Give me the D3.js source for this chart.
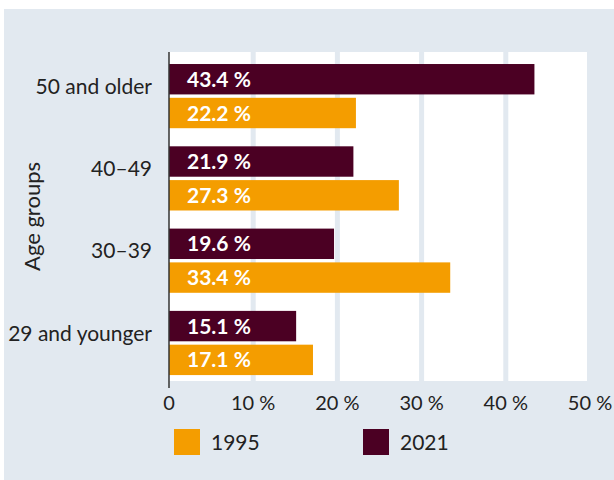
<!DOCTYPE html>
<html>
<head>
<meta charset="utf-8">
<script src="https://cdn.jsdelivr.net/npm/d3@7"></script>
<style>
  body { margin: 0; background: #fff; }
  svg { display: block; font-family: Lato, "Noto Sans", sans-serif; }
</style>
</head>
<body>
<svg id="chart"></svg>
<script>
const groups = ["50 and older", "40\u201349", "30\u201339", "29 and younger"];
const years = ["2021", "1995"];
const values2021 = [43.4, 21.9, 19.6, 15.1];
const values1995 = [22.2, 27.3, 33.4, 17.1];
const xTicks = [0, 10, 20, 30, 40, 50];
const colors = { "1995": "#f49d00", "2021": "#4b0023" };

const width = 614, height = 480;
const margin = { top: 52, right: 24, bottom: 99, left: 169 };

const svg = d3.select("#chart")
    .attr("width", width)
    .attr("height", height);

// panel
svg.append("rect")
    .attr("x", 4).attr("y", 9)
    .attr("width", width - 4).attr("height", height - 9)
    .attr("fill", "#e2e9f0");

const x = d3.scaleLinear().domain([0, 50]).range([margin.left, 590]);
const y0 = d3.scaleBand().domain(groups)
    .range([margin.top, height - margin.bottom])
    .paddingInner(0.22).paddingOuter(0.109).align(0.67);
const y1 = d3.scaleBand().domain(years)
    .range([0, y0.bandwidth()])
    .paddingInner(0.1);

const plotTop = margin.top, plotBottom = 381;

// white plot area
svg.append("rect")
    .attr("x", x(0)).attr("y", plotTop)
    .attr("width", x(50) - x(0) - 3).attr("height", plotBottom - plotTop)
    .attr("fill", "#fff");

// gridlines
svg.append("g")
    .selectAll("line")
    .data(xTicks.slice(1))
    .enter()
    .append("line")
    .attr("x1", d => x(d)).attr("x2", d => x(d))
    .attr("y1", plotTop).attr("y2", plotBottom)
    .attr("stroke", "#e2e9f0")
    .attr("stroke-width", 5);

const rows = groups.map((g, i) => ({ group: g, "2021": values2021[i], "1995": values1995[i] }));

const gGroup = svg.append("g")
    .selectAll("g")
    .data(rows)
    .enter()
    .append("g")
    .attr("transform", d => `translate(0,${y0(d.group)})`);

const bars = gGroup.selectAll("g")
    .data(d => years.map(k => ({ year: k, value: d[k] })))
    .enter()
    .append("g");

bars.append("rect")
    .attr("x", x(0))
    .attr("y", d => y1(d.year))
    .attr("width", d => x(d.value) - x(0))
    .attr("height", y1.bandwidth())
    .attr("fill", d => colors[d.year]);

bars.append("text")
    .attr("x", x(0) + 18)
    .attr("y", d => y1(d.year) + y1.bandwidth() / 2)
    .attr("dy", "0.36em")
    .attr("fill", "#fff")
    .attr("font-size", 21)
    .attr("font-weight", 700)
    .text(d => d3.format(".1f")(d.value) + " %");

// category labels
svg.append("g")
    .selectAll("text")
    .data(groups)
    .enter()
    .append("text")
    .attr("x", 152)
    .attr("y", d => y0(d) + y1("2021") + y1.bandwidth() / 2 + 7)
    .attr("dy", "0.36em")
    .attr("text-anchor", "end")
    .attr("fill", "#222")
    .attr("font-size", 21)
    .text(d => d);

// y axis title
svg.append("text")
    .attr("transform", `translate(40,${(plotTop + plotBottom) / 2}) rotate(-90)`)
    .attr("text-anchor", "middle")
    .attr("fill", "#222")
    .attr("font-size", 22)
    .text("Age groups");

// axis line
svg.append("line")
    .attr("x1", x(0)).attr("x2", x(0))
    .attr("y1", plotTop).attr("y2", 388)
    .attr("stroke", "#333")
    .attr("stroke-width", 1.5);

// tick labels
svg.append("g")
    .selectAll("text")
    .data(xTicks)
    .enter()
    .append("text")
    .attr("x", d => x(d))
    .attr("y", 410)
    .attr("text-anchor", "middle")
    .attr("fill", "#222")
    .attr("font-size", 20)
    .text(d => d === 0 ? "0" : d + " %");

// legend
const legendItems = [{ year: "1995", x: 174 }, { year: "2021", x: 363 }];
const legend = svg.append("g")
    .selectAll("g")
    .data(legendItems)
    .enter()
    .append("g")
    .attr("transform", d => `translate(${d.x},429)`);

legend.append("rect")
    .attr("width", 26).attr("height", 26)
    .attr("fill", d => colors[d.year]);

legend.append("text")
    .attr("x", 37).attr("y", 13)
    .attr("dy", "0.36em")
    .attr("fill", "#222")
    .attr("font-size", 21)
    .text(d => d.year);
</script>
</body>
</html>
